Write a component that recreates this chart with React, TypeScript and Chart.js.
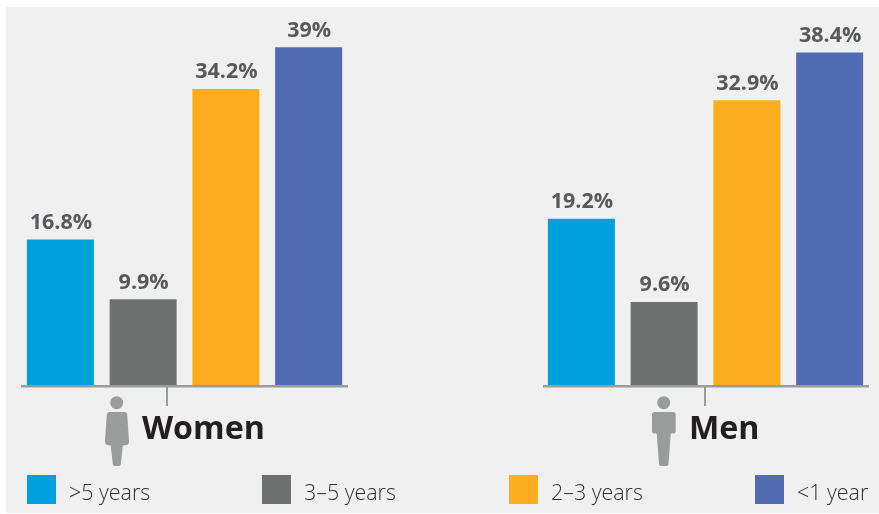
import React, { useEffect, useRef } from "react";
import { Chart, registerables } from "chart.js";

Chart.register(...registerables);

const categories = [">5 years", "3–5 years", "2–3 years", "<1 year"];
const colors = ["#00a0dc", "#6e7170", "#fbad20", "#506bb3"];
const womenValues = [16.8, 9.9, 34.2, 39];
const menValues = [19.2, 9.6, 32.9, 38.4];
const valueLabelsWomen = ["16.8%", "9.9%", "34.2%", "39%"];
const valueLabelsMen = ["19.2%", "9.6%", "32.9%", "38.4%"];
const FONT = '"Open Sans", sans-serif';

function makePlugin(labels: string[], tickX: number, axisFrom: number, axisTo: number) {
  return {
    id: "decor",
    afterDatasetsDraw(chart: any) {
      const { ctx, chartArea } = chart;
      const meta = chart.getDatasetMeta(0);
      ctx.save();
      ctx.fillStyle = "#58595b";
      ctx.font = `700 21.5px ${FONT}`;
      ctx.textAlign = "center";
      ctx.textBaseline = "alphabetic";
      meta.data.forEach((bar: any, i: number) => {
        ctx.fillText(labels[i], bar.x + 0.5, bar.y - 10.5);
      });
      ctx.fillStyle = "#9a9b9b";
      ctx.fillRect(axisFrom, chartArea.bottom, axisTo - axisFrom, 2.5);
      ctx.fillRect(tickX, chartArea.bottom, 2, 21);
      ctx.restore();
    },
  };
}

function BarPanel(props: {
  values: number[];
  labels: string[];
  left: number;
  tickX: number;
  axisFrom: number;
  axisTo: number;
}) {
  const ref = useRef<HTMLCanvasElement>(null);
  useEffect(() => {
    const chart = new Chart(ref.current!, {
      type: "bar",
      data: {
        labels: categories,
        datasets: [
          {
            data: props.values,
            backgroundColor: colors,
            barPercentage: 1,
            categoryPercentage: 67 / 82.75,
          },
        ],
      },
      options: {
        animation: false,
        responsive: false,
        events: [],
        layout: { padding: { left: 10, right: 10, top: 31.7, bottom: 25 } },
        plugins: { legend: { display: false }, tooltip: { enabled: false } },
        scales: {
          x: { display: false },
          y: { display: false, min: 0, max: 40 },
        },
      },
      plugins: [makePlugin(props.labels, props.tickX, props.axisFrom, props.axisTo)],
    });
    return () => chart.destroy();
  }, []);
  return (
    <canvas
      ref={ref}
      width={351}
      height={403}
      style={{ position: "absolute", left: props.left, top: 7, width: 351, height: 403 }}
    />
  );
}

const legendX = [27, 262, 509, 755];
const legendTextX = [69, 304, 551, 797];

export default function App() {
  return (
    <div style={{ position: "fixed", left: 0, top: 0, width: 879, height: 514, background: "#fff", overflow: "hidden" }}>
      <div style={{ position: "absolute", left: 6, top: 7, right: 0, bottom: 1, background: "#f0f0f0" }} />
      <BarPanel values={womenValues} labels={valueLabelsWomen} left={9} tickX={157} axisFrom={12} axisTo={339} />
      <BarPanel values={menValues} labels={valueLabelsMen} left={530} tickX={174} axisFrom={13} axisTo={339} />
      <svg width={879} height={514} style={{ position: "absolute", left: 0, top: 0 }}>
        <g fill="#9a9b9b">
          <circle cx={116.7} cy={402.7} r={6.5} />
          <path d="M109 412 H125 Q127 412 127.2 414.5 L129 441 Q129 444.5 127 445 L122.8 445.5 L120.8 464 Q120.6 466 119 466 H114.5 Q112.9 466 112.7 464 L110.7 445.5 L107 445 Q105 444.5 105 441 L106.8 414.5 Q107 412 109 412 Z" />
          <circle cx={663.7} cy={402.7} r={6.5} />
          <path d="M654.5 412 H673.5 Q675.7 412 675.7 414.5 V431 Q675.7 433.5 673.5 433.5 H670.8 L668.5 464 Q668.3 466 666.5 466 H661 Q659.2 466 659 464 L656.7 433.5 H654 Q652 433.5 652 431 V414.5 Q652 412 654.5 412 Z" />
        </g>
      </svg>
      <div style={{ position: "absolute", left: 142, top: 405, font: `700 32.2px ${FONT}`, color: "#231f20", lineHeight: "44px", whiteSpace: "nowrap" }}>Women</div>
      <div style={{ position: "absolute", left: 689, top: 405, font: `700 32.2px ${FONT}`, color: "#231f20", lineHeight: "44px", whiteSpace: "nowrap" }}>Men</div>
      {categories.map((c, i) => (
        <React.Fragment key={c}>
          <div style={{ position: "absolute", left: legendX[i], top: 475, width: 29, height: 29, background: colors[i] }} />
          <div style={{ position: "absolute", left: legendTextX[i], top: 478, font: `300 21.4px ${FONT}`, color: "#2f2f30", lineHeight: "28px", whiteSpace: "nowrap" }}>{c}</div>
        </React.Fragment>
      ))}
    </div>
  );
}
